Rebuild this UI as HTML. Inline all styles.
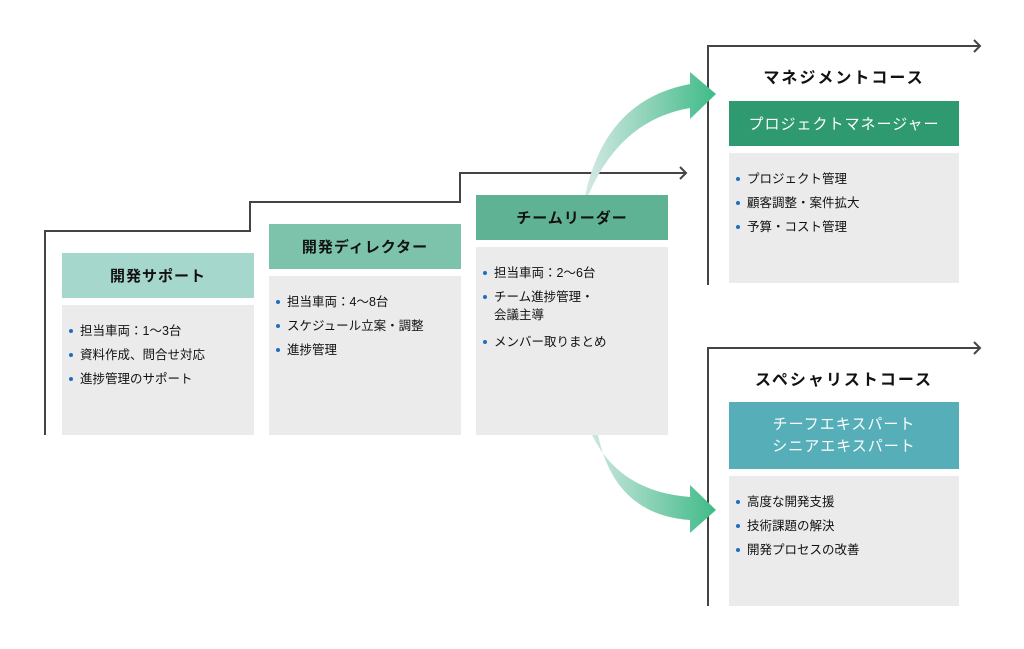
<!DOCTYPE html>
<html><head><meta charset="utf-8"><style>
body{margin:0;width:1024px;height:649px;background:#fff;position:relative;overflow:hidden;font-family:"Liberation Sans","Noto Sans CJK JP",sans-serif;}
.a{position:absolute;box-sizing:border-box}
.h{display:flex;align-items:center;justify-content:center;font-size:15px;color:#111;letter-spacing:1px}
.hb{font-weight:bold}
.b{background:#ebebeb;font-size:12.5px;color:#111;padding-top:14px}
.b div{line-height:24px;padding-left:18px;position:relative}
.b div:before{content:"";position:absolute;left:7px;top:10px;width:4px;height:4px;border-radius:50%;background:#1f6fc0}
.t{font-size:16px;font-weight:bold;color:#111;text-align:center;letter-spacing:2px}
</style></head><body>
<svg class="a" style="left:0;top:0" width="1024" height="649">
<defs>
<linearGradient id="g1" x1="585" y1="0" x2="718" y2="0" gradientUnits="userSpaceOnUse"><stop offset="0" stop-color="#d5e9e5"/><stop offset="1" stop-color="#3dba86"/></linearGradient>
</defs>
<g fill="none" stroke="#444" stroke-width="2">
<path d="M45 435 V231 H250 V202 H460 V173 H686"/>
<path d="M680 167 L686 173 L680 179"/>
<path d="M708 285 V46 H980"/><path d="M974 40 L980 46 L974 52"/>
<path d="M708 606 V348 H980"/><path d="M974 342 L980 348 L974 354"/>
</g>
<path d="M585 196 Q605 100 690 84 L690 72 L716 94 L690 119 L690 108 Q620 120 588 196 Z" fill="url(#g1)"/>
<path d="M592 435 Q620 492 690 497 L690 485 L716 510 L690 533 L690 520 Q615 515 598 435 Z" fill="url(#g1)"/>
</svg>
<div class="a h hb" style="left:62px;top:253px;width:192px;height:45px;background:#a5d7cc">開発サポート</div>
<div class="a b" style="left:62px;top:305px;width:192px;height:130px"><div>担当車両：1〜3台</div><div>資料作成、問合せ対応</div><div>進捗管理のサポート</div></div>
<div class="a h hb" style="left:269px;top:224px;width:192px;height:45px;background:#7dc3ab">開発ディレクター</div>
<div class="a b" style="left:269px;top:276px;width:192px;height:159px"><div>担当車両：4〜8台</div><div>スケジュール立案・調整</div><div>進捗管理</div></div>
<div class="a h hb" style="left:476px;top:195px;width:192px;height:45px;background:#5fb394">チームリーダー</div>
<div class="a b" style="left:476px;top:247px;width:192px;height:188px"><div>担当車両：2〜6台</div><div style="line-height:18px;padding-bottom:6px;padding-top:3px">チーム進捗管理・<br>会議主導</div><div>メンバー取りまとめ</div></div>
<div class="a t" style="left:729px;top:64px;width:230px">マネジメントコース</div>
<div class="a h" style="left:729px;top:101px;width:230px;height:45px;background:#2f9a6f;color:#fff">プロジェクトマネージャー</div>
<div class="a b" style="left:729px;top:153px;width:230px;height:130px"><div>プロジェクト管理</div><div>顧客調整・案件拡大</div><div>予算・コスト管理</div></div>
<div class="a t" style="left:729px;top:366px;width:230px">スペシャリストコース</div>
<div class="a h" style="left:729px;top:402px;width:230px;height:67px;background:#56afb8;color:#fff;text-align:center;line-height:22px">チーフエキスパート<br>シニアエキスパート</div>
<div class="a b" style="left:729px;top:476px;width:230px;height:130px"><div>高度な開発支援</div><div>技術課題の解決</div><div>開発プロセスの改善</div></div>
</body></html>
